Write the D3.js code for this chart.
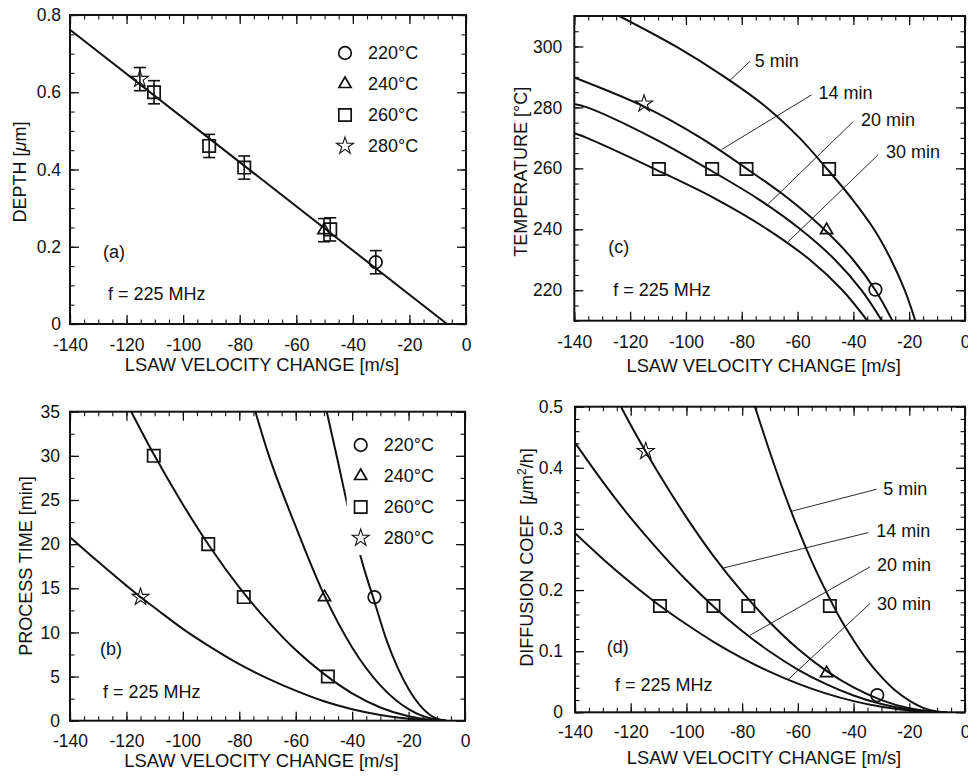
<!DOCTYPE html>
<html lang="en">
<head>
<meta charset="UTF-8">
<title>LSAW velocity change</title>
<script src="https://d3js.org/d3.v7.min.js"></script>
<style>
  body { margin: 0; background: #fff; }
</style>
</head>
<body>
<script>
const width = 968, height = 776;
const FONT = '"Liberation Sans", Arial, Helvetica, sans-serif';
const INK = "#111";

// ---------- data ----------
const xTicks = [-140, -120, -100, -80, -60, -40, -20, 0];
const xTickLabels = ["-140", "-120", "-100", "-80", "-60", "-40", "-20", "0"];

const depthTicks = [0, 0.2, 0.4, 0.6, 0.8];
const depthTickLabels = ["0", "0.2", "0.4", "0.6", "0.8"];
const timeTicks = [0, 5, 10, 15, 20, 25, 30, 35];
const timeTickLabels = ["0", "5", "10", "15", "20", "25", "30", "35"];
const tempTicks = [220, 240, 260, 280, 300];
const tempTickLabels = ["220", "240", "260", "280", "300"];
const diffTicks = [0, 0.1, 0.2, 0.3, 0.4, 0.5];
const diffTickLabels = ["0", "0.1", "0.2", "0.3", "0.4", "0.5"];

const legendTemps = [220, 240, 260, 280];
const legendLabels = ["220°C", "240°C", "260°C", "280°C"];

// (a) depth vs velocity change
const aVel   = [-115.3, -110.3, -90.8, -78.4, -48.0, -50.2, -31.9];
const aDepth = [0.634, 0.600, 0.461, 0.405, 0.245, 0.243, 0.160];
const aErr   = [0.03, 0.03, 0.03, 0.03, 0.03, 0.03, 0.03];
const aGroup = [280, 260, 260, 260, 260, 240, 220];
const aFit   = [[-140, 0.762], [-6.7, 0]];

// (b) process time vs velocity change
const bVel   = [-115.0, -110.3, -91.0, -78.4, -48.6, -49.8, -32.1];
const bTime  = [14, 30, 20, 14, 5, 14, 14];
const bGroup = [280, 260, 260, 260, 260, 240, 220];
const b280 = [[-140, 20.8], [-130, 18.0], [-120, 15.3], [-115, 14.0], [-110, 12.8], [-100, 10.4], [-90, 8.3],
              [-80, 6.4], [-70, 4.8], [-60, 3.4], [-50, 2.2], [-40, 1.3], [-30, 0.65], [-20, 0.21], [-10, 0.02], [-6.7, 0]];
const b260 = [[-118.3, 35], [-110, 30.0], [-100, 24.5], [-90, 19.5], [-80, 15.1], [-70, 11.3], [-60, 8.0],
              [-50, 5.3], [-40, 3.1], [-30, 1.5], [-20, 0.5], [-10, 0.03], [-6.7, 0]];
const b240 = [[-74.3, 35], [-70, 30.5], [-60, 22.0], [-50, 14.3], [-40, 8.3], [-30, 4.0], [-20, 1.3], [-10, 0.1], [-6.7, 0]];
const b220 = [[-49.0, 35], [-45, 29.3], [-42, 24.9], [-38, 19.8], [-35, 16.4], [-32.5, 13.9], [-28, 9.3],
              [-24, 6.1], [-20, 3.6], [-15, 1.4], [-10, 0.22], [-6.7, 0]];

// (c) temperature vs velocity change
const cVel   = [-115.0, -109.7, -90.6, -78.3, -48.7, -49.6, -32.1];
const cTemp  = [281.2, 259.8, 259.8, 259.8, 259.8, 239.7, 220.2];
const cGroup = [280, 260, 260, 260, 260, 240, 220];
const c5  = [[-123.9, 310], [-103.6, 300], [-86.2, 290], [-71.1, 280], [-59.3, 270], [-49.6, 260],
             [-40.5, 250], [-32.6, 240], [-26.5, 230], [-21.6, 220], [-17.8, 210]];
const c14 = [[-140, 289.8], [-114.4, 280], [-94.7, 270], [-78.4, 260], [-63.2, 250], [-50.5, 240],
             [-40.1, 230], [-32.1, 220], [-26.0, 210]];
const c20 = [[-140, 281.1], [-135.4, 280], [-111.9, 270], [-92.4, 260], [-74.2, 250], [-59.0, 240],
             [-46.6, 230], [-37.1, 220], [-29.8, 210]];
const c30 = [[-140, 271.5], [-135.5, 270], [-111.7, 260], [-89.4, 250], [-70.8, 240], [-55.6, 230],
             [-43.9, 220], [-35.0, 210]];
const timeLabels = ["5 min", "14 min", "20 min", "30 min"];
const cLeaderFrom = [[-84.3, 288.8], [-87.2, 266.2], [-70.5, 248.3], [-63.4, 235.9]];
const cLeaderTo   = [[-77.1, 295.1], [-55.0, 284.1], [-40.1, 275.3], [-31.2, 264.4]];

// (d) diffusion coefficient vs velocity change
const dVel   = [-114.6, -109.5, -90.3, -77.8, -48.5, -49.7, -31.5];
const dDiff  = [0.427, 0.174, 0.174, 0.174, 0.174, 0.064, 0.028];
const dGroup = [280, 260, 260, 260, 260, 240, 220];
const d5  = [[-75.4, 0.5], [-70, 0.425], [-65, 0.360], [-60, 0.301], [-55, 0.247], [-50, 0.199], [-45, 0.155],
             [-40, 0.118], [-35, 0.085], [-30, 0.058], [-25, 0.0355], [-20, 0.019], [-15, 0.0073], [-10, 0.0012], [-6.7, 0]];
const d14 = [[-123.5, 0.5], [-120, 0.470], [-110, 0.391], [-100, 0.319], [-90, 0.254], [-80, 0.197], [-70, 0.147],
             [-60, 0.104], [-50, 0.0686], [-40, 0.0406], [-30, 0.0199], [-20, 0.0065], [-10, 0.0004], [-6.7, 0]];
const d20 = [[-140, 0.441], [-130, 0.377], [-120, 0.318], [-110, 0.265], [-100, 0.216], [-90, 0.172], [-80, 0.133],
             [-70, 0.099], [-60, 0.070], [-50, 0.0465], [-40, 0.0275], [-30, 0.0135], [-20, 0.0044], [-10, 0.0003], [-6.7, 0]];
const d30 = [[-140, 0.293], [-130, 0.251], [-120, 0.212], [-110, 0.176], [-100, 0.144], [-90, 0.1145], [-80, 0.0887],
             [-70, 0.0661], [-60, 0.0469], [-50, 0.0309], [-40, 0.0183], [-30, 0.009], [-20, 0.0029], [-10, 0.0002], [-6.7, 0]];
const dLeaderFrom = [[-62.2, 0.329], [-86.8, 0.236], [-77.2, 0.126], [-63.4, 0.054]];
const dLeaderTo   = [[-31.7, 0.365], [-34.7, 0.294], [-34.1, 0.238], [-34.1, 0.178]];

// ---------- drawing ----------
const svg = d3.select("body").append("svg")
    .attr("width", width).attr("height", height)
    .style("font-family", FONT);

const symbolOf   = {220: d3.symbolCircle, 240: d3.symbolTriangle, 260: d3.symbolSquare, 280: d3.symbolStar};
const symbolSize = {220: 125, 240: 64, 260: 152, 280: 90};

function marker(g, px, py, t) {
    g.append("path")
     .attr("transform", `translate(${px},${py})`)
     .attr("d", d3.symbol().type(symbolOf[t]).size(symbolSize[t])())
     .attr("fill", "none")
     .attr("stroke", INK)
     .attr("stroke-width", t === 280 ? 1.1 : 1.7);
}

function panel(p) {
    const x = d3.scaleLinear().domain([-140, 0]).range([p.x0, p.x1]);
    const y = d3.scaleLinear().domain(p.yDomain).range([p.y1, p.y0]);
    const g = svg.append("g");

    svg.append("clipPath").attr("id", "clip-" + p.id)
       .append("rect")
       .attr("x", p.x0).attr("y", p.y0)
       .attr("width", p.x1 - p.x0).attr("height", p.y1 - p.y0);

    const xMinor = d3.range(29).map(i => -140 + i * 5);
    const sides = [
        {axis: d3.axisBottom, s: x, t: `translate(0,${p.y1})`, major: xTicks, labels: xTickLabels, minor: xMinor, pad: p.xPad},
        {axis: d3.axisTop,    s: x, t: `translate(0,${p.y0})`, major: xTicks, minor: xMinor},
        {axis: d3.axisLeft,   s: y, t: `translate(${p.x0},0)`, major: p.yTicks, labels: p.yLabels, minor: p.yMinor, pad: p.yPad},
        {axis: d3.axisRight,  s: y, t: `translate(${p.x1},0)`, major: p.yTicks, minor: p.yMinor}
    ];
    sides.forEach(sd => {
        const mg = g.append("g").attr("transform", sd.t)
            .call(sd.axis(sd.s).tickValues(sd.minor).tickFormat("").tickSizeInner(-4.5).tickSizeOuter(0));
        mg.select(".domain").remove();
        mg.selectAll("line").attr("stroke", INK).attr("stroke-width", 1.1);

        const Mg = g.append("g").attr("transform", sd.t)
            .call(sd.axis(sd.s).tickValues(sd.major)
                  .tickFormat(sd.labels ? (d, i) => sd.labels[i] : "")
                  .tickSizeInner(-9).tickSizeOuter(0).tickPadding(sd.pad || 3));
        Mg.select(".domain").remove();
        Mg.attr("font-family", FONT).attr("font-size", 17.5);
        Mg.selectAll("line").attr("stroke", INK).attr("stroke-width", 1.3);
        Mg.selectAll("text").attr("fill", INK);
    });

    g.append("rect")
     .attr("x", p.x0).attr("y", p.y0)
     .attr("width", p.x1 - p.x0).attr("height", p.y1 - p.y0)
     .attr("fill", "none").attr("stroke", INK).attr("stroke-width", 2);

    // axis titles
    g.append("text")
     .attr("x", (p.x0 + p.x1) / 2 - 6).attr("y", p.y1 + p.xTitleOff)
     .attr("text-anchor", "middle").attr("font-size", 18.3).attr("fill", INK)
     .text("LSAW VELOCITY CHANGE [m/s]");

    const yt = g.append("text")
     .attr("transform", `translate(${p.x0 - p.yTitleOff},${p.yTitleY}) rotate(-90)`)
     .attr("text-anchor", "middle").attr("font-size", 18).attr("fill", INK)
     .style("white-space", "pre");
    p.yTitle(yt);

    // panel tag and frequency note
    g.append("text").attr("x", p.x0 + p.tag[0]).attr("y", p.y1 + p.tag[1])
     .attr("font-size", 18).attr("fill", INK).text(p.tagText);
    g.append("text").attr("x", p.x0 + p.freq[0]).attr("y", p.y1 + p.freq[1])
     .attr("font-size", 18).attr("fill", INK).text("f = 225 MHz");

    const plot = g.append("g").attr("clip-path", `url(#clip-${p.id})`);
    return {x, y, g, plot};
}

function curve(plot, x, y, pts, shape) {
    const line = d3.line().x(d => x(d[0])).y(d => y(d[1])).curve(shape || d3.curveMonotoneX);
    plot.append("path")
        .attr("d", line(pts.slice().sort((a, b) => a[0] - b[0])))
        .attr("fill", "none").attr("stroke", INK).attr("stroke-width", 2);
}

function legend(g, sx, sy) {
    g.append("rect").attr("x", sx - 14).attr("y", sy - 17)
     .attr("width", 104).attr("height", 3 * 31 + 34).attr("fill", "#fff");
    legendTemps.forEach((t, i) => {
        marker(g, sx, sy + i * 31, t);
        g.append("text").attr("x", sx + 23).attr("y", sy + i * 31).attr("dy", "0.35em")
         .attr("font-size", 18).attr("fill", INK).text(legendLabels[i]);
    });
}

function leaders(g, x, y, from, to, dx, dy) {
    from.forEach((f, i) => {
        g.append("line")
         .attr("x1", x(f[0])).attr("y1", y(f[1]))
         .attr("x2", x(to[i][0])).attr("y2", y(to[i][1]))
         .attr("stroke", INK).attr("stroke-width", 0.9);
        g.append("text")
         .attr("x", x(to[i][0]) + dx[i]).attr("y", y(to[i][1]) + dy[i]).attr("dy", "0.35em")
         .attr("font-size", 18).attr("fill", INK).text(timeLabels[i]);
    });
}

function muTitle(prefix, suffix) {
    return t => {
        t.append("tspan").text(prefix);
        t.append("tspan").attr("font-style", "italic").text("μ");
        suffix(t);
    };
}

// ----- (a) -----
{
    const {x, y, g, plot} = panel({
        id: "a", x0: 70, x1: 466, y0: 15, y1: 324, yDomain: [0, 0.8],
        yTicks: depthTicks, yLabels: depthTickLabels, yMinor: d3.range(17).map(i => i * 0.05),
        xPad: 14.5, yPad: 9, xTitleOff: 47, yTitleOff: 44, yTitleY: 172,
        tag: [33, -66], tagText: "(a)", freq: [38, -24],
        yTitle: muTitle("DEPTH [", t => t.append("tspan").text("m]"))
    });
    legend(g, 345, 53);
    curve(plot, x, y, aFit);
    aVel.forEach((v, i) => {
        const px = x(v), top = y(aDepth[i] + aErr[i]), bot = y(aDepth[i] - aErr[i]);
        const eb = g.append("g").attr("stroke", INK).attr("stroke-width", 1.6);
        eb.append("line").attr("x1", px).attr("x2", px).attr("y1", top).attr("y2", bot);
        eb.append("line").attr("x1", px - 6).attr("x2", px + 6).attr("y1", top).attr("y2", top);
        eb.append("line").attr("x1", px - 6).attr("x2", px + 6).attr("y1", bot).attr("y2", bot);
        marker(g, px, y(aDepth[i]), aGroup[i]);
    });
}

// ----- (b) -----
{
    const {x, y, g, plot} = panel({
        id: "b", x0: 70, x1: 465, y0: 411.7, y1: 720.7, yDomain: [0, 35],
        yTicks: timeTicks, yLabels: timeTickLabels, yMinor: d3.range(15).map(i => i * 2.5),
        xPad: 14, yPad: 10, xTitleOff: 46.5, yTitleOff: 38, yTitleY: 566,
        tag: [30, -65.7], tagText: "(b)", freq: [33, -22.7],
        yTitle: t => t.text("PROCESS TIME [min]")
    });
    [b280, b260, b240, b220].forEach(c => curve(plot, x, y, c));
    legend(g, 360.7, 445);
    bVel.forEach((v, i) => marker(g, x(v), y(bTime[i]), bGroup[i]));
}

// ----- (c) -----
{
    const {x, y, g, plot} = panel({
        id: "c", x0: 574.3, x1: 965, y0: 16, y1: 320.7, yDomain: [210, 310],
        yTicks: tempTicks, yLabels: tempTickLabels, yMinor: d3.range(21).map(i => 210 + i * 5),
        xPad: 14.5, yPad: 12, xTitleOff: 51.5, yTitleOff: 47.5, yTitleY: 171.7,
        tag: [34, -68], tagText: "(c)", freq: [39, -25],
        yTitle: t => t.text("TEMPERATURE [°C]")
    });
    [c5, c14, c20, c30].forEach(c => curve(plot, x, y, c, d3.curveCatmullRom.alpha(0.5)));
    leaders(g, x, y, cLeaderFrom, cLeaderTo, [5, 7, 8, 8], [-1, -2, -2.5, -3]);
    cVel.forEach((v, i) => marker(g, x(v), y(cTemp[i]), cGroup[i]));
}

// ----- (d) -----
{
    const {x, y, g, plot} = panel({
        id: "d", x0: 575, x1: 965, y0: 406.7, y1: 712.3, yDomain: [0, 0.5],
        yTicks: diffTicks, yLabels: diffTickLabels, yMinor: d3.range(26).map(i => i * 0.02),
        xPad: 13, yPad: 12, xTitleOff: 51.5, yTitleOff: 41.7, yTitleY: 557.5,
        tag: [31.7, -59], tagText: "(d)", freq: [40, -21],
        yTitle: muTitle("DIFFUSION COEF  [", t => {
            t.append("tspan").text("m");
            t.append("tspan").attr("font-size", 12).attr("dy", -7).text("2");
            t.append("tspan").attr("dy", 7).text("/h]");
        })
    });
    [d5, d14, d20, d30].forEach(c => curve(plot, x, y, c));
    leaders(g, x, y, dLeaderFrom, dLeaderTo, [6.5, 8, 7, 7], [-1, -2, -1.7, 0]);
    dVel.forEach((v, i) => marker(g, x(v), y(dDiff[i]), dGroup[i]));
}
</script>
</body>
</html>
